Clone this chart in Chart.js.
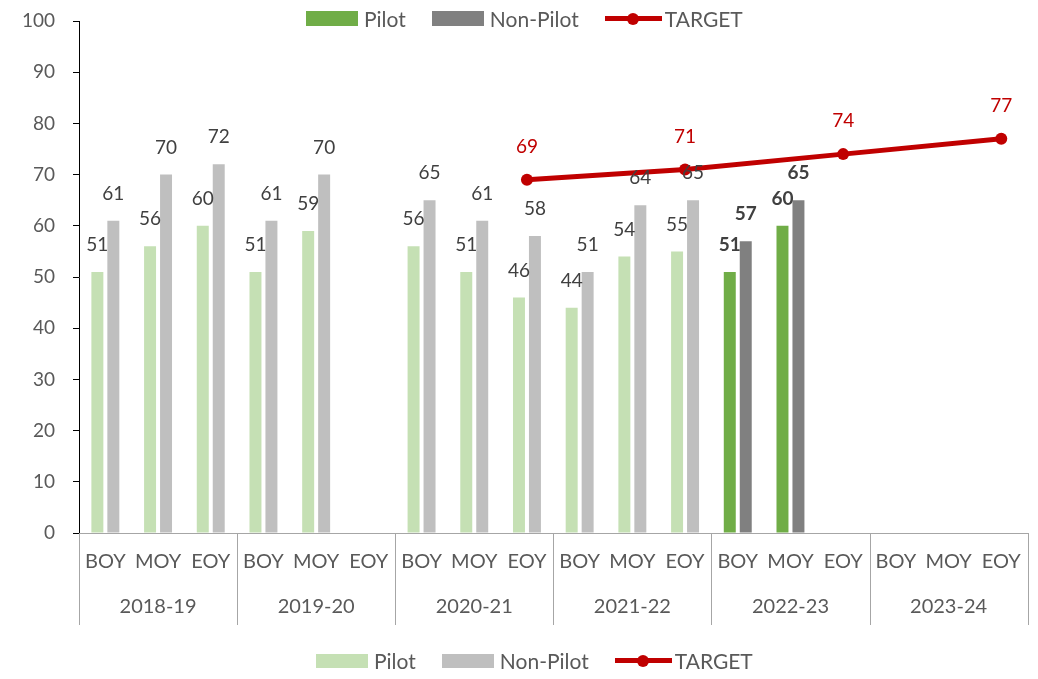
<!DOCTYPE html>
<html>
<head>
<meta charset="utf-8">
<script src="https://cdn.jsdelivr.net/npm/chart.js@4/dist/chart.umd.min.js"></script>
<style>
html, body { margin: 0; padding: 0; background: #fff; }
#wrap { position: relative; width: 1038px; height: 679px; font-family: Lato, sans-serif; }
#wrap canvas { position: absolute; left: 0; top: 0; }
.legend { position: absolute; display: flex; align-items: center; font-size: 21px; color: #595959; white-space: nowrap; }
.legend .item { display: flex; align-items: center; margin-right: 26px; }
.legend .sw { display: inline-block; width: 52px; height: 14px; margin-right: 6px; }
.legend .ln { position: relative; width: 57px; height: 5px; margin-right: 3px; }
.legend .ln::after { content: ''; position: absolute; left: 50%; top: 50%; width: 12px; height: 12px; border-radius: 50%; background: inherit; transform: translate(-50%, -50%); }
#legendTop { left: 306px; top: 6px; filter: blur(0.4px); }
#legendTop .sw { height: 15px; }
#legendBottom { left: 316px; top: 648px; }
</style>
</head>
<body>
<div id="wrap">
  <canvas id="chart" width="1038" height="679"></canvas>
  <div class="legend" id="legendTop"></div>
  <div class="legend" id="legendBottom"></div>
</div>
<script>
const years = ['2018-19', '2019-20', '2020-21', '2021-22', '2022-23', '2023-24']
const terms = ['BOY', 'MOY', 'EOY']
const seriesNames = ['Pilot', 'Non-Pilot', 'TARGET']

const pilot    = [51, 56, 60,  51, 59, null,  56, 51, 46,  44, 54, 55,  51, 60, null,  null, null, null]
const nonPilot = [61, 70, 72,  61, 70, null,  65, 61, 58,  51, 64, 65,  57, 65, null,  null, null, null]
const target   = [null, null, null,  null, null, null,  null, null, 69,  null, null, 71,  null, null, 74,  null, null, 77]

const currentYear = '2022-23'

const FONT = 'Lato, sans-serif'
const TEXT = '#595959'
const LABEL = '#404040'
const RED = '#c00000'

const labels = years.flatMap(y => terms.map(t => y + ' ' + t))
const isCurrent = i => years[Math.floor(i / terms.length)] === currentYear

const pilotColors = pilot.map((_, i) => isCurrent(i) ? '#70ad47' : '#c5e0b4')
const nonPilotColors = nonPilot.map((_, i) => isCurrent(i) ? '#808080' : '#bfbfbf')

// legends (top one is the stray darker copy)
function buildLegend(el, colors) {
    seriesNames.forEach((name, i) => {
        const item = document.createElement('span')
        item.className = 'item'
        const mark = document.createElement('span')
        mark.className = i === 2 ? 'ln' : 'sw'
        mark.style.background = colors[i]
        item.appendChild(mark)
        item.appendChild(document.createTextNode(name))
        el.appendChild(item)
    })
}
buildLegend(document.getElementById('legendTop'), ['#70ad47', '#808080', RED])
buildLegend(document.getElementById('legendBottom'), ['#c5e0b4', '#bfbfbf', RED])

// year row + separators under the category axis
const yearGroups = {
    id: 'yearGroups',
    afterDraw(chart) {
        const x = chart.scales.x
        const ctx = chart.ctx
        const n = terms.length
        const bottom = 625
        ctx.save()
        ctx.strokeStyle = '#a6a6a6'
        ctx.lineWidth = 1
        for (let g = 0; g <= years.length; g++) {
            const px = Math.round(x.getPixelForValue(g * n - 0.5)) + 0.5
            ctx.beginPath()
            ctx.moveTo(px, x.top)
            ctx.lineTo(px, bottom)
            ctx.stroke()
        }
        ctx.fillStyle = TEXT
        ctx.font = '20px ' + FONT
        ctx.textAlign = 'center'
        ctx.textBaseline = 'middle'
        years.forEach((y, g) => {
            ctx.fillText(y, x.getPixelForValue(g * n + 1), 607)
        })
        ctx.restore()
    }
}

// value labels above bars and target points
const valueLabels = {
    id: 'valueLabels',
    afterDatasetsDraw(chart) {
        const ctx = chart.ctx
        ctx.save()
        ctx.textAlign = 'center'
        ctx.textBaseline = 'middle'
        chart.data.datasets.forEach((ds, di) => {
            const meta = chart.getDatasetMeta(di)
            meta.data.forEach((el, i) => {
                const v = ds.data[i]
                if (v === null) return
                if (ds.type === 'line') {
                    ctx.font = '19px ' + FONT
                    ctx.fillStyle = RED
                    ctx.fillText(v, el.x, el.y - 33)
                } else {
                    ctx.font = (isCurrent(i) ? 'bold ' : '') + '19px ' + FONT
                    ctx.fillStyle = LABEL
                    ctx.fillText(v, el.x, el.y - 27)
                }
            })
        })
        ctx.restore()
    }
}

new Chart(document.getElementById('chart'), {
    type: 'bar',
    data: {
        labels,
        datasets: [
            {
                label: seriesNames[0],
                data: pilot,
                backgroundColor: pilotColors,
                categoryPercentage: 0.606,
                barPercentage: 0.75,
                order: 1
            },
            {
                label: seriesNames[1],
                data: nonPilot,
                backgroundColor: nonPilotColors,
                categoryPercentage: 0.606,
                barPercentage: 0.75,
                order: 1
            },
            {
                type: 'line',
                label: seriesNames[2],
                data: target,
                borderColor: RED,
                backgroundColor: RED,
                borderWidth: 5,
                pointRadius: 6,
                pointBorderWidth: 0,
                pointBackgroundColor: RED,
                spanGaps: true,
                order: 0
            }
        ]
    },
    options: {
        responsive: false,
        animation: false,
        layout: { padding: { top: 21, right: 9, bottom: 54, left: 0 } },
        plugins: {
            legend: { display: false },
            tooltip: { enabled: false }
        },
        scales: {
            x: {
                grid: { display: false, drawTicks: false },
                border: { color: '#a6a6a6', width: 1 },
                ticks: {
                    autoSkip: false,
                    maxRotation: 0,
                    padding: 17,
                    color: TEXT,
                    font: { family: FONT, size: 20 },
                    callback: (v, i) => terms[i % terms.length]
                },
                afterFit(scale) { scale.height = 92 }
            },
            y: {
                min: 0,
                max: 100,
                ticks: {
                    stepSize: 10,
                    padding: 18,
                    color: TEXT,
                    font: { family: FONT, size: 19 }
                },
                grid: { drawOnChartArea: false, drawTicks: true, tickLength: 6, color: '#000' },
                border: { color: '#000', width: 1 },
                afterFit(scale) {
                    scale.width = 79
                    scale.paddingTop = 12
                    scale.paddingBottom = 12
                }
            }
        }
    },
    plugins: [yearGroups, valueLabels]
})
</script>
</body>
</html>
